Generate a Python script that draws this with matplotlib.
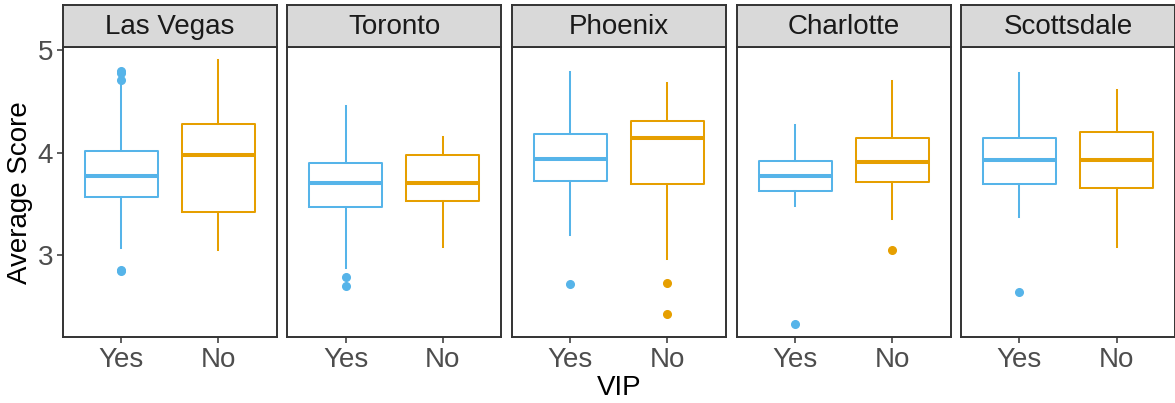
import matplotlib.pyplot as plt
import numpy as np

plt.rcParams['font.family'] = ['Liberation Sans', 'DejaVu Sans']

cities = ["Las Vegas", "Toronto", "Phoenix", "Charlotte", "Scottsdale"]
groups = ["Yes", "No"]
colors = ["#56B4E9", "#E69F00"]

# per city: [Yes, No] -> (whislo, q1, med, q3, whishi)
whislo = [[3.07, 3.05], [2.88, 3.08], [3.20, 2.96], [3.48, 3.35], [3.37, 3.08]]
q1 = [[3.57, 3.42], [3.47, 3.53], [3.72, 3.69], [3.63, 3.71], [3.69, 3.66]]
med = [[3.77, 3.98], [3.70, 3.70], [3.94, 4.14], [3.77, 3.91], [3.93, 3.93]]
q3 = [[4.02, 4.28], [3.90, 3.98], [4.18, 4.31], [3.92, 4.14], [4.14, 4.20]]
whishi = [[4.68, 4.90], [4.45, 4.15], [4.79, 4.68], [4.27, 4.70], [4.78, 4.61]]
fliers = [
    [[4.80, 4.78, 4.71, 2.86, 2.85], []],
    [[2.79, 2.70], []],
    [[2.72], [2.73, 2.43]],
    [[2.33], [3.05]],
    [[2.64], []],
]

W, H = 1175, 403
fig = plt.figure(figsize=(W / 100, H / 100), dpi=100)

edge = "#333333"
lefts = [62.7, 287.3, 511.7, 736.7, 961.0]
pw = 214
ptop, pbot = 47.0, 337.3
stop = 4.7

for i, city in enumerate(cities):
    ax = fig.add_axes([lefts[i] / W, 1 - pbot / H, pw / W, (pbot - ptop) / H])
    for j in range(2):
        st = dict(med=med[i][j], q1=q1[i][j], q3=q3[i][j],
                  whislo=whislo[i][j], whishi=whishi[i][j], fliers=fliers[i][j])
        c = colors[j]
        ax.bxp([st], positions=[j + 1], widths=0.75, showcaps=False,
               boxprops=dict(color=c, linewidth=1.45),
               whiskerprops=dict(color=c, linewidth=1.45),
               medianprops=dict(color=c, linewidth=2.9),
               flierprops=dict(marker="o", markerfacecolor=c, markeredgecolor=c,
                               markersize=5.5))
    ax.set_xlim(0.4, 2.6)
    ax.set_ylim(2.2, 5.03)
    ax.set_xticks([1, 2])
    ax.set_xticklabels(groups)
    ax.set_yticks([3, 4, 5])
    for s in ax.spines.values():
        s.set_color(edge)
        s.set_linewidth(1.4)
    ax.tick_params(axis="both", length=4, width=1.1, color=edge,
                   labelsize=20, labelcolor="#4D4D4D", pad=3)
    if i > 0:
        ax.tick_params(axis="y", left=False, labelleft=False)

    sax = fig.add_axes([lefts[i] / W, 1 - ptop / H, pw / W, (ptop - stop) / H])
    sax.set_facecolor("#D9D9D9")
    sax.set_xticks([])
    sax.set_yticks([])
    for s in sax.spines.values():
        s.set_color(edge)
        s.set_linewidth(1.4)
    sax.text(0.5, 0.48, city, ha="center", va="center", fontsize=20,
             color="#1A1A1A", transform=sax.transAxes)

fig.text(20 / W, 1 - (ptop + pbot) / 2 / H, "Average Score", rotation=90,
         ha="center", va="center", fontsize=20)
fig.text((lefts[0] + lefts[-1] + pw) / 2 / W, 1 - 388 / H, "VIP",
         ha="center", va="center", fontsize=20)

fig.savefig("out.png", dpi=100)
